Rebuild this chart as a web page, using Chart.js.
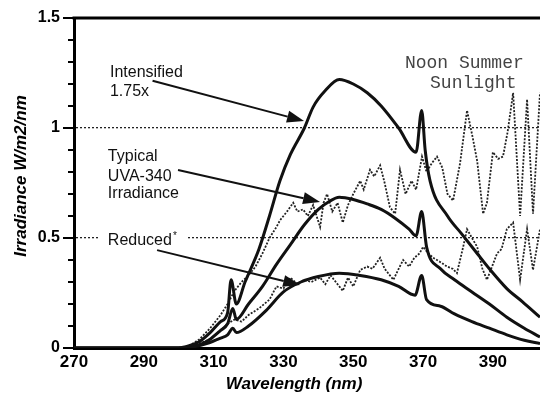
<!DOCTYPE html>
<html>
<head>
<meta charset="utf-8">
<script src="https://cdn.jsdelivr.net/npm/chart.js@4.4.0/dist/chart.umd.min.js"></script>
<style>
    body { margin: 0; background: #fff; }
    #wrap { width: 540px; height: 394px; position: relative; }
</style>
</head>
<body>
<div id="wrap"><canvas id="myChart"></canvas></div>
<script>
// Graduations des axes
var xTicks = [270, 290, 310, 330, 350, 370, 390];
var yTicks = [0, 0.5, 1, 1.5];

// Lampe intensifiée 1.75x
var intensifiedNm = [270, 300, 303, 306, 309, 312, 314, 315, 316.5, 319, 323, 326, 329, 332, 336, 338.5, 342, 346, 350, 354, 358, 363, 368, 369.6, 370.6, 372, 377, 381, 385, 389, 394, 398.5, 403.5];
var intensifiedVal = [0, 0, 0.01, 0.03, 0.07, 0.12, 0.16, 0.31, 0.2, 0.3, 0.45, 0.6, 0.76, 0.88, 1.0, 1.095, 1.17, 1.22, 1.2, 1.16, 1.1, 1.0, 0.89, 1.08, 0.9, 0.76, 0.6, 0.52, 0.44, 0.36, 0.27, 0.21, 0.14];

// UVA-340 typique
var typicalNm = [270, 300, 303, 306, 309, 312, 314, 315.5, 316.5, 320, 324, 328, 332, 336, 340, 343, 346, 350, 354, 358, 362, 366, 368, 369.6, 371, 375, 379, 384, 389, 394, 399, 403.5];
var typicalVal = [0, 0, 0.005, 0.015, 0.04, 0.08, 0.11, 0.18, 0.13, 0.2, 0.28, 0.38, 0.47, 0.56, 0.63, 0.665, 0.685, 0.675, 0.655, 0.63, 0.59, 0.54, 0.51, 0.62, 0.46, 0.36, 0.31, 0.255, 0.2, 0.14, 0.09, 0.05];

// Réduit
var reducedNm = [270, 300, 304, 308, 312, 314, 315.5, 316.5, 320, 325, 330, 335, 340, 346, 352, 358, 363, 367.7, 369.6, 371, 375, 379, 384, 389, 394, 399, 403.5];
var reducedVal = [0, 0, 0.005, 0.02, 0.045, 0.06, 0.09, 0.07, 0.1, 0.17, 0.255, 0.3, 0.325, 0.34, 0.33, 0.31, 0.28, 0.24, 0.33, 0.22, 0.19, 0.155, 0.12, 0.09, 0.06, 0.035, 0.02];

// Soleil de midi en été
var noonNm = [300, 303, 306, 309, 312, 314, 316, 318, 320, 322, 324, 326, 328, 329, 331, 332.8, 334, 335.6, 337, 338.5, 340.5, 341.5, 342.5, 344, 345.5, 347, 348.5, 350, 352, 353, 354.8, 356, 357.7, 359, 360.5, 362, 363.4, 365, 366.7, 368, 369.7, 371, 372.5, 374, 375.5, 377, 378.6, 380.6, 382.6, 384.3, 385.5, 387.2, 388.3, 390, 391.5, 392.9, 394.2, 395.8, 397.8, 399.8, 401.5, 403.5];
var noonVal = [0, 0.01, 0.04, 0.09, 0.15, 0.2, 0.26, 0.3, 0.33, 0.37, 0.43, 0.5, 0.55, 0.58, 0.62, 0.66, 0.62, 0.63, 0.6, 0.65, 0.55, 0.66, 0.7, 0.62, 0.66, 0.57, 0.65, 0.7, 0.76, 0.72, 0.81, 0.78, 0.83, 0.75, 0.64, 0.61, 0.81, 0.7, 0.76, 0.72, 0.87, 0.8, 0.84, 0.87, 0.82, 0.7, 0.67, 0.84, 1.08, 0.95, 0.85, 0.61, 0.66, 0.89, 0.86, 0.87, 0.98, 1.16, 0.6, 1.13, 0.61, 1.16];

// Deuxième courbe solaire (plus basse)
var lowSunNm = [300, 303, 306, 309, 312, 314, 316, 318, 320, 323, 326, 328, 330, 332, 334, 336, 338, 340.5, 342, 343.5, 345, 347, 348.5, 350, 352, 354, 355.5, 357.7, 359, 360, 361.5, 363, 364.3, 366, 367.5, 369, 370, 371.5, 372.9, 375, 376.9, 378.5, 379.7, 381.5, 382.6, 384, 385.5, 387, 388.3, 390, 391.2, 392.5, 394, 395.8, 397.8, 399.8, 401.5, 403.5];
var lowSunVal = [0, 0.005, 0.02, 0.04, 0.08, 0.11, 0.13, 0.12, 0.15, 0.18, 0.22, 0.28, 0.27, 0.32, 0.29, 0.31, 0.3, 0.32, 0.29, 0.33, 0.3, 0.26, 0.32, 0.28, 0.355, 0.37, 0.36, 0.41, 0.36, 0.34, 0.31, 0.36, 0.4, 0.37, 0.41, 0.43, 0.46, 0.43, 0.41, 0.39, 0.37, 0.36, 0.34, 0.46, 0.54, 0.5, 0.46, 0.36, 0.31, 0.38, 0.43, 0.45, 0.54, 0.57, 0.31, 0.54, 0.355, 0.54];

function toPoints(nm, val) {
    return nm.map(function(x, i) { return {x: x, y: val[i]}; });
}

function isGrid(v) {
    return Math.abs(v - 0.5) < 1e-6 || Math.abs(v - 1) < 1e-6;
}

function drawArrow(ctx, x1, y1, x2, y2) {
    var a = Math.atan2(y2 - y1, x2 - x1);
    var len = 17, half = 6;
    var bx = x2 - len * Math.cos(a), by = y2 - len * Math.sin(a);
    ctx.beginPath();
    ctx.moveTo(x1, y1);
    ctx.lineTo(bx, by);
    ctx.stroke();
    ctx.beginPath();
    ctx.moveTo(x2, y2);
    ctx.lineTo(bx + half * Math.sin(a), by - half * Math.cos(a));
    ctx.lineTo(bx - half * Math.sin(a), by + half * Math.cos(a));
    ctx.closePath();
    ctx.fill();
}

// Textes, flèches, graduations et cadre
var annotPlugin = {
    id: 'annotations',
    afterDatasetsDraw: function(chart) {
        var ctx = chart.ctx;
        var area = chart.chartArea;
        var xs = chart.scales.x, ys = chart.scales.y;
        var px = function(v) { return xs.getPixelForValue(v); };
        var py = function(v) { return ys.getPixelForValue(v); };

        ctx.save();
        ctx.strokeStyle = '#000';
        ctx.lineWidth = 3;
        ctx.beginPath();
        ctx.moveTo(area.left - 1.5, area.top);
        ctx.lineTo(area.right, area.top);
        ctx.stroke();

        // petites graduations de l'axe Y
        ctx.lineWidth = 2;
        ys.ticks.forEach(function(t) {
            var y = Math.round(py(t.value));
            var len = yTicks.indexOf(Math.round(t.value * 10) / 10) >= 0 ? 11 : 6;
            ctx.beginPath();
            ctx.moveTo(area.left - len, y);
            ctx.lineTo(area.left, y);
            ctx.stroke();
        });

        // fond blanc derrière "Reduced*"
        ctx.fillStyle = '#fff';
        ctx.fillRect(px(277.2), py(0.5) - 4, px(302.5) - px(277.2), 8);

        ctx.fillStyle = '#111';
        ctx.textAlign = 'left';
        ctx.textBaseline = 'alphabetic';
        ctx.font = '16px "Liberation Sans", Arial, sans-serif';
        ctx.fillText('Intensified', px(280.3), py(1.232));
        ctx.fillText('1.75x', px(280.3), py(1.145));
        ctx.fillText('Typical', px(279.7), py(0.85));
        ctx.fillText('UVA-340', px(279.7), py(0.759));
        ctx.fillText('Irradiance', px(279.7), py(0.682));
        ctx.fillText('Reduced', px(279.7), py(0.468));
        var w = ctx.measureText('Reduced').width;
        ctx.font = '10px "Liberation Sans", Arial, sans-serif';
        ctx.fillText('*', px(279.7) + w + 1, py(0.468) - 6);

        ctx.fillStyle = '#444';
        ctx.font = '18px "Liberation Mono", "Courier New", monospace';
        ctx.fillText('Noon Summer', px(364.8), py(1.273));
        ctx.fillText('Sunlight', px(372), py(1.182));

        // flèches
        ctx.strokeStyle = '#111';
        ctx.fillStyle = '#111';
        ctx.lineWidth = 2;
        drawArrow(ctx, px(292.5), py(1.215), px(335.9), py(1.032));
        drawArrow(ctx, px(299.8), py(0.809), px(340.5), py(0.664));
        drawArrow(ctx, px(293.8), py(0.445), px(334.8), py(0.286));

        // titres des axes
        ctx.fillStyle = '#000';
        ctx.font = 'italic bold 17px "Liberation Sans", Arial, sans-serif';
        ctx.textAlign = 'center';
        ctx.fillText('Wavelength (nm)', 294, 389);
        ctx.translate(26, 176);
        ctx.rotate(-Math.PI / 2);
        ctx.fillText('Irradiance W/m2/nm', 0, 0);
        ctx.restore();
    }
};

var lampStyle = {
    borderColor: '#111',
    borderWidth: 3,
    pointRadius: 0,
    cubicInterpolationMode: 'monotone',
    fill: false
};
var sunStyle = {
    borderColor: '#222',
    borderWidth: 1.8,
    borderDash: [2, 1.5],
    pointRadius: 0,
    tension: 0,
    fill: false
};

var ctx = document.getElementById('myChart').getContext('2d');
var myChart = new Chart(ctx, {
    type: 'line',
    data: {
        datasets: [
            Object.assign({label: 'Intensified 1.75x', data: toPoints(intensifiedNm, intensifiedVal)}, lampStyle),
            Object.assign({label: 'Typical UVA-340', data: toPoints(typicalNm, typicalVal)}, lampStyle),
            Object.assign({label: 'Reduced', data: toPoints(reducedNm, reducedVal)}, lampStyle),
            Object.assign({label: 'Noon Summer Sunlight', data: toPoints(noonNm, noonVal)}, sunStyle),
            Object.assign({label: 'Sunlight (low)', data: toPoints(lowSunNm, lowSunVal)}, sunStyle)
        ]
    },
    options: {
        responsive: true,
        maintainAspectRatio: false,
        animation: false,
        layout: { padding: { top: 18, right: 0, left: 0, bottom: 0 } },
        plugins: {
            legend: { display: false },
            tooltip: { enabled: false }
        },
        scales: {
            x: {
                type: 'linear',
                min: 270,
                max: 403.5,
                afterBuildTicks: function(scale) {
                    scale.ticks = xTicks.map(function(v) { return {value: v}; });
                },
                afterFit: function(scale) { scale.height = 46; },
                grid: { display: false, drawTicks: false },
                border: { display: true, color: '#000', width: 3 },
                ticks: {
                    color: '#000',
                    padding: 4,
                    maxRotation: 0,
                    autoSkip: false,
                    font: { family: '"Liberation Sans", Arial, sans-serif', size: 17, weight: 'bold' }
                }
            },
            y: {
                min: 0,
                max: 1.5,
                afterBuildTicks: function(scale) {
                    var t = [];
                    for (var i = 0; i <= 15; i++) t.push({value: i / 10});
                    scale.ticks = t;
                },
                afterFit: function(scale) { scale.width = 74; },
                grid: {
                    drawOnChartArea: true,
                    drawTicks: true,
                    tickLength: 11,
                    tickColor: 'rgba(0,0,0,0)',
                    color: function(c) {
                        return c.tick && isGrid(c.tick.value) ? '#222' : 'rgba(0,0,0,0)';
                    },
                    lineWidth: 1.3
                },
                border: { display: true, color: '#000', width: 3, dash: [2, 2] },
                ticks: {
                    color: '#000',
                    padding: 3,
                    autoSkip: false,
                    font: { family: '"Liberation Sans", Arial, sans-serif', size: 16, weight: 'bold' },
                    callback: function(v) {
                        var r = Math.round(v * 10) / 10;
                        return yTicks.indexOf(r) >= 0 ? String(r) : '';
                    }
                }
            }
        }
    },
    plugins: [annotPlugin]
});
</script>
</body>
</html>
